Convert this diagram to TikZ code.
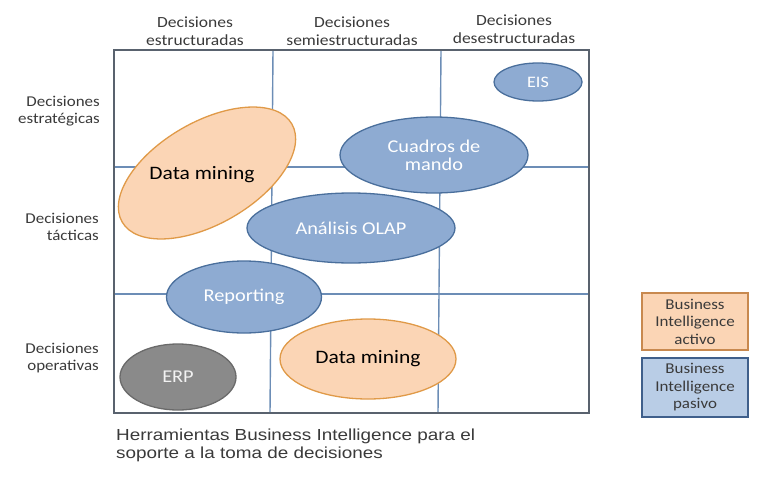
\documentclass[tikz,border=0pt]{standalone}
\usepackage{fontspec}
\setmainfont{Carlito}[FakeStretch=1.13]
\newfontfamily\capfont{Liberation Sans}[FakeStretch=1.18]
\usetikzlibrary{shapes.geometric}
\definecolor{bluefill}{HTML}{8EABD2}
\definecolor{blueline}{HTML}{4A6F9C}
\definecolor{orfill}{HTML}{FBD5B5}
\definecolor{orline}{HTML}{E09A48}
\definecolor{grayfill}{HTML}{8A8A8A}
\definecolor{grayline}{HTML}{6A6A6A}
\definecolor{gridline}{HTML}{6C8DB6}
\definecolor{outerline}{HTML}{59626E}
\definecolor{txtgray}{HTML}{3A3A3A}
\definecolor{legorline}{HTML}{C8894F}
\definecolor{legblfill}{HTML}{B9CDE6}
\definecolor{legblline}{HTML}{3F5F8B}
\tikzset{
  blueell/.style={ellipse, draw=blueline, fill=bluefill, line width=1.3pt, text=white, inner sep=0pt, align=center, font=\fontsize{18}{18}\selectfont},
  orell/.style={ellipse, draw=orline, fill=orfill, line width=1.3pt, text=black, inner sep=0pt, align=center, font=\fontsize{19}{20}\selectfont},
  grayell/.style={ellipse, draw=grayline, fill=grayfill, line width=1.3pt, text=white!90!gray, inner sep=0pt, font=\fontsize{18}{20}\selectfont},
  header/.style={align=center, text=txtgray, font=\fontsize{15.5}{18}\selectfont, inner sep=0pt},
  rowlab/.style={align=right, anchor=east, text=txtgray, font=\fontsize{15}{16.5}\selectfont, inner sep=0pt},
  legbox/.style={draw, line width=1.3pt, minimum width=106pt, align=center, text=txtgray, font=\fontsize{15}{17.5}\selectfont, inner sep=0pt},
  gridl/.style={draw=gridline, line width=1.4pt},
}
\begin{document}
\begin{tikzpicture}[x=1pt,y=-1pt]
\useasboundingbox (0,0) rectangle (767,476);
% grid
\coordinate (tl) at (114,50);
\coordinate (br) at (589,413);
\draw[gridl] (273,50) -- (270,413);
\draw[gridl] (441,50) -- (438,413);
\draw[gridl] (114,167) -- (589,167);
\draw[gridl] (114,294) -- (589,294);
\draw[draw=outerline, line width=1.8pt] (tl) rectangle (br);
% headers
\node[header] (h1) at (195,31) {Decisiones\\estructuradas};
\node[header] (h2) at (352,31) {Decisiones\\semiestructuradas};
\node[header] (h3) at (514,29) {Decisiones\\desestructuradas};
\node[rowlab] (r1) at (100,111) {Decisiones\\estratégicas};
\node[rowlab] (r2) at (99,227) {Decisiones\\tácticas};
\node[rowlab] (r3) at (99,358) {Decisiones\\operativas};
% ellipses
\draw[draw=orline, fill=orfill, line width=1.3pt, rotate around={30:(207,173)}] (207,173) ellipse [x radius=98, y radius=51];
\node[font=\fontsize{19}{20}\selectfont, text=black] (dm1) at (202,175) {Data mining};
\node[blueell, minimum width=188pt, minimum height=76pt] (cm) at (434,155) {Cuadros de\\mando};
\node[blueell, minimum width=208pt, minimum height=70pt] (olap) at (351,228) {Análisis OLAP};
\node[blueell, minimum width=155pt, minimum height=72pt] (rep) at (244,297) {Reporting};
\node[blueell, minimum width=88pt, minimum height=38pt, font=\fontsize{16}{18}\selectfont] (eis) at (538,82) {EIS};
\node[grayell, minimum width=116pt, minimum height=66pt] (erp) at (178,377) {ERP};
\node[orell, minimum width=176pt, minimum height=80pt] (dm2) at (368,359) {Data mining};
% legend
\node[legbox, draw=legorline, fill=orfill, minimum height=57pt] (la) at (695,321.5) {Business\\Intelligence\\activo};
\node[legbox, draw=legblline, fill=legblfill, minimum height=59pt] (lp) at (695,387.5) {Business\\Intelligence\\pasivo};
% caption
\node[anchor=north west, align=left, inner sep=0pt, text=txtgray, font=\capfont\fontsize{16}{17.5}\selectfont] (cap) at (116,429) {Herramientas Business Intelligence para el\\soporte a la toma de decisiones};
\end{tikzpicture}
\end{document}
